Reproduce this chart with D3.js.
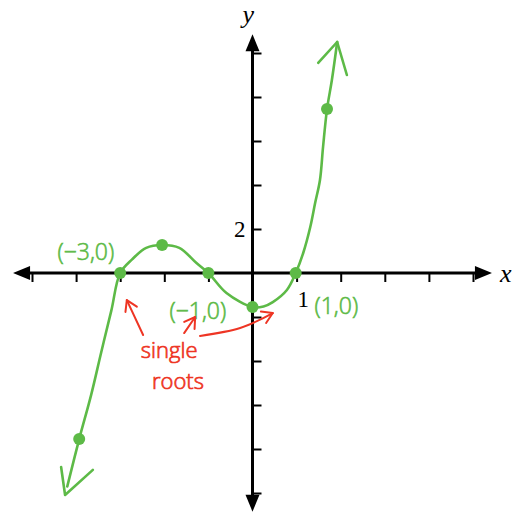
<!DOCTYPE html>
<html>
<head>
<meta charset="utf-8">
<script src="https://cdn.jsdelivr.net/npm/d3@7"></script>
<style>
  html, body { margin: 0; padding: 0; background: #fff; }
  svg { display: block; }
</style>
</head>
<body>
<svg id="chart" width="520" height="513"></svg>
<script>
// Hand-sketched graph of y = ½(x+3)(x+1)(x−1)
const xTicks = [-5, -4, -3, -2, -1, 1, 2, 3, 4, 5];
const yTicks = [-10, -8, -6, -4, -2, 2, 4, 6, 8, 10];
const xTickLabels = [{ v: 1, t: "1" }];
const yTickLabels = [{ v: 2, t: "2" }];

// traced curve (x, y)
const curveX = [-4.2, -3.93, -3.66, -3.43, -3.2, -3.0, -2.73, -2.41, -2.05, -1.66, -1.27, -1.0, -0.59, 0.0, 0.25, 0.46, 0.78, 0.98, 1.15, 1.31, 1.42, 1.53, 1.6, 1.69, 1.8, 1.92];
const curveY = [-9.7, -7.55, -5.55, -3.6, -1.7, 0.0, 0.62, 1.14, 1.27, 1.14, 0.45, 0.0, -0.91, -1.55, -1.52, -1.32, -0.77, 0.0, 0.91, 2.09, 3.18, 4.23, 5.73, 7.45, 8.77, 10.5];

// open arrowheads at the ends of the curve: [tip, barb, barb]
const endArrows = [
  [[1.92, 10.5], [1.49, 9.55], [2.14, 9.0]],
  [[-4.25, -10.09], [-4.34, -8.82], [-3.62, -8.95]]
];

// plotted points
const ptX = [-3.93, -3.0, -2.05, -1.0, 0.0, 0.98, 1.69];
const ptY = [-7.55, 0.0, 1.27, 0.0, -1.55, 0.0, 7.45];

// point labels
const labelText = ["(−3,0)", "(−1,0)", "(1,0)"];
const labelX = [-3.78, -1.24, 1.9];
const labelY = [1.0, -1.68, -1.45];

// annotation
const noteLines = ["single", "roots"];
const noteX = [-1.89, -1.69];
const noteY = [-3.45, -4.86];
const noteArrows = [
  [[-2.48, -2.82], [-2.85, -1.23]],
  [[-1.55, -2.73], [-1.3, -2.0]],
  [[-1.19, -2.86], [-0.28, -2.5], [0.46, -1.82]]
];

const GREEN = "#5dba47";
const RED = "#ee3524";

const svg = d3.select("#chart");
const x = d3.scaleLinear().domain([-5, 5]).range([32, 473]);
const y = d3.scaleLinear().domain([-10, 10]).range([493, 53]);
const x0 = x(0), y0 = y(0);

// axes (ticks only; main lines drawn with arrowheads below)
const gx = svg.append("g").attr("transform", `translate(0,${y0})`)
  .call(d3.axisBottom(x).tickValues(xTicks).tickSize(9).tickFormat(""));
const gy = svg.append("g").attr("transform", `translate(${x0},0)`)
  .call(d3.axisRight(y).tickValues(yTicks).tickSize(9).tickFormat(""));
[gx, gy].forEach(g => {
  g.select(".domain").remove();
  g.selectAll(".tick line").attr("stroke", "#000").attr("stroke-width", 2);
});

const xMin = -5.43, xMax = 5.43, yMin = -10.85, yMax = 10.85;
svg.append("line").attr("x1", x(xMin) + 10).attr("x2", x(xMax) - 10)
  .attr("y1", y0).attr("y2", y0).attr("stroke", "#000").attr("stroke-width", 3);
svg.append("line").attr("y1", y(yMax) + 10).attr("y2", y(yMin) - 10)
  .attr("x1", x0).attr("x2", x0).attr("stroke", "#000").attr("stroke-width", 3);

function tri(tipX, tipY, dx, dy) {
  // dx,dy: unit direction of the arrow
  const L = 17, W = 7;
  const bx = tipX - dx * L, by = tipY - dy * L;
  return `M${tipX},${tipY}L${bx - dy * W},${by + dx * W}L${bx + dy * W},${by - dx * W}Z`;
}
svg.append("path").attr("d", tri(x(xMin), y0, -1, 0)).attr("fill", "#000");
svg.append("path").attr("d", tri(x(xMax), y0, 1, 0)).attr("fill", "#000");
svg.append("path").attr("d", tri(x0, y(yMax), 0, -1)).attr("fill", "#000");
svg.append("path").attr("d", tri(x0, y(yMin), 0, 1)).attr("fill", "#000");

// axis letters and tick labels
svg.append("text").attr("x", x(xMax) + 8).attr("y", y0 + 9)
  .attr("font-family", "Liberation Serif").attr("font-style", "italic")
  .attr("font-size", 26).text("x");
svg.append("text").attr("x", x0 - 10).attr("y", y(yMax) - 11)
  .attr("font-family", "Liberation Serif").attr("font-style", "italic")
  .attr("font-size", 26).text("y");
svg.selectAll(".xl").data(xTickLabels).join("text")
  .attr("x", d => x(d.v) + 1).attr("y", y0 + 34)
  .attr("font-family", "Liberation Serif").attr("font-size", 23).text(d => d.t);
svg.selectAll(".yl").data(yTickLabels).join("text")
  .attr("x", x0 - 7).attr("y", d => y(d.v) + 8).attr("text-anchor", "end")
  .attr("font-family", "Liberation Serif").attr("font-size", 23).text(d => d.t);

// curve
const curvePts = curveX.map((v, i) => [v, curveY[i]]);
svg.append("path")
  .attr("d", d3.line().x(d => x(d[0])).y(d => y(d[1])).curve(d3.curveCatmullRom.alpha(0.5))(curvePts))
  .attr("fill", "none").attr("stroke", GREEN).attr("stroke-width", 2.6)
  .attr("stroke-linecap", "round").attr("stroke-linejoin", "round");

const segLine = d3.line().x(d => x(d[0])).y(d => y(d[1]));
endArrows.forEach(([tip, b1, b2]) => {
  svg.append("path").attr("d", segLine([b1, tip, b2]))
    .attr("fill", "none").attr("stroke", GREEN).attr("stroke-width", 2.6)
    .attr("stroke-linecap", "round").attr("stroke-linejoin", "round");
});

// points
svg.selectAll(".pt").data(ptX.map((v, i) => [v, ptY[i]])).join("circle")
  .attr("cx", d => x(d[0])).attr("cy", d => y(d[1])).attr("r", 6).attr("fill", GREEN);

// point labels
svg.selectAll(".lab").data(labelText).join("text")
  .attr("x", (d, i) => x(labelX[i])).attr("y", (d, i) => y(labelY[i]))
  .attr("text-anchor", "middle").attr("dominant-baseline", "central")
  .attr("font-family", "Open Sans").attr("font-size", 23).attr("font-weight", 300)
  .attr("fill", GREEN).attr("stroke", GREEN).attr("stroke-width", 0.6).text(d => d);

// annotation text
svg.selectAll(".note").data(noteLines).join("text")
  .attr("x", (d, i) => x(noteX[i])).attr("y", (d, i) => y(noteY[i]))
  .attr("text-anchor", "middle").attr("dominant-baseline", "central")
  .attr("font-family", "Open Sans").attr("font-size", 22).attr("font-weight", 300)
  .attr("fill", RED).attr("stroke", RED).attr("stroke-width", 0.7).text(d => d);

// annotation arrows
function vHead(p, from, len, spread) {
  const px = x(p[0]), py = y(p[1]), fx = x(from[0]), fy = y(from[1]);
  const a = Math.atan2(py - fy, px - fx);
  const a1 = a + Math.PI - spread, a2 = a + Math.PI + spread;
  return `M${px + len * Math.cos(a1)},${py + len * Math.sin(a1)}L${px},${py}L${px + len * Math.cos(a2)},${py + len * Math.sin(a2)}`;
}
const aLine = d3.line().x(d => x(d[0])).y(d => y(d[1])).curve(d3.curveNatural);
noteArrows.forEach(arr => {
  svg.append("path").attr("d", aLine(arr)).attr("fill", "none").attr("stroke", RED)
    .attr("stroke-width", 2).attr("stroke-linecap", "round");
  svg.append("path").attr("d", vHead(arr[arr.length - 1], arr[arr.length - 2], 12, 0.55))
    .attr("fill", "none").attr("stroke", RED).attr("stroke-width", 2)
    .attr("stroke-linecap", "round").attr("stroke-linejoin", "round");
});
</script>
</body>
</html>
